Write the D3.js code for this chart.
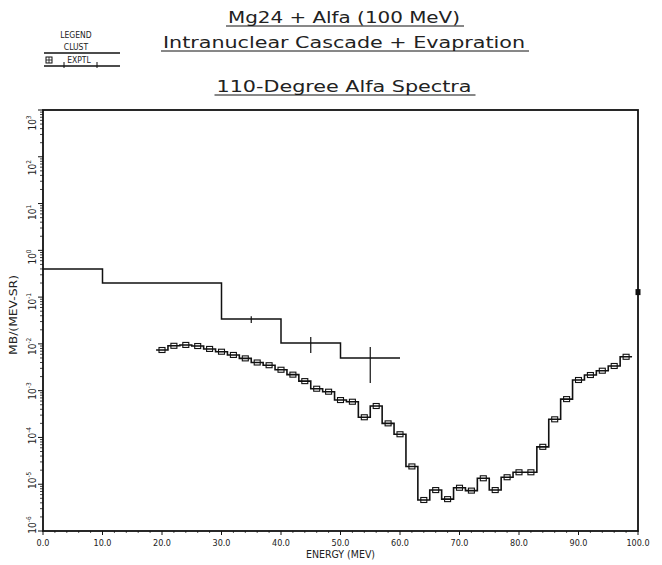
<!DOCTYPE html>
<html>
<head>
<meta charset="utf-8">
<script src="https://cdn.jsdelivr.net/npm/d3@7"></script>
<style>
  body { margin: 0; background: #fff; }
  text { font-family: "DejaVu Sans Condensed", "DejaVu Sans", sans-serif; fill: #222; }
</style>
</head>
<body>
<div id="chart"></div>
<script>
var svgWidth = 662;
var svgHeight = 565;

var margin = { top: 110, right: 24, bottom: 34, left: 43 };
var width = svgWidth - margin.left - margin.right;
var height = svgHeight - margin.top - margin.bottom;

// Cascade calculation (coarse bins, MeV edges) and its statistical errors
var clustEdges = [0, 10, 30, 40, 50, 60];
var clustValues = [0.40, 0.20, 0.034, 0.0105, 0.005];
var clustErrEnergy = [35, 45, 55];
var clustErrLow = [0.028, 0.0064, 0.00146];
var clustErrHigh = [0.039, 0.014, 0.0086];

// Experimental spectrum, 2 MeV bins (bin centres)
var exptEnergy = [20, 22, 24, 26, 28, 30, 32, 34, 36, 38, 40, 42, 44, 46, 48, 50, 52, 54, 56, 58,
                  60, 62, 64, 66, 68, 70, 72, 74, 76, 78, 80, 82, 84, 86, 88, 90, 92, 94, 96, 98];
var exptValues = [0.0074, 0.0091, 0.0095, 0.0090, 0.0078, 0.0068, 0.0058, 0.0049, 0.0040, 0.0035,
                  0.0028, 0.0022, 0.0016, 0.0011, 0.00095, 0.00063, 0.00058, 0.00027, 0.00047, 0.00020,
                  0.000117, 2.4e-5, 4.6e-6, 7.5e-6, 4.8e-6, 8.4e-6, 7.3e-6, 1.34e-5, 7.5e-6, 1.41e-5,
                  1.8e-5, 1.8e-5, 6.3e-5, 2.44e-4, 6.6e-4, 1.69e-3, 2.16e-3, 2.67e-3, 3.37e-3, 5.3e-3];

// lone point drawn on the right frame
var edgePoint = [100, 0.128];

var xTicks = [0, 10, 20, 30, 40, 50, 60, 70, 80, 90, 100];
var yExponents = [-6, -5, -4, -3, -2, -1, 0, 1, 2, 3];

var svg = d3.select("#chart")
  .append("svg")
  .attr("width", svgWidth)
  .attr("height", svgHeight);

var x = d3.scaleLinear().domain([0, 100]).range([margin.left, margin.left + width]);
var y = d3.scaleLog().domain([1e-6, 1e3]).range([margin.top + height, margin.top]);
// the plotter prints the decade labels a little off the tick
var yLabel = d3.scaleLog().domain([1e-6, 1e3]).range([525, 123]);

var ink = "#111";

// Titles, underlined
var titles = [
  { t: "Mg24 + Alfa (100 MeV)", y: 23, w: 232 },
  { t: "Intranuclear Cascade + Evapration", y: 48, w: 362 },
  { t: "110-Degree Alfa Spectra", y: 92, w: 255 }
];
titles.forEach(function(d) {
  svg.append("text")
    .attr("x", 344 - d.w / 2)
    .attr("y", d.y)
    .attr("textLength", d.w)
    .attr("lengthAdjust", "spacingAndGlyphs")
    .attr("font-size", 16)
    .attr("font-weight", 300)
    .text(d.t);
  svg.append("line")
    .attr("x1", 344 - d.w / 2 - 2).attr("x2", 344 + d.w / 2 + 4)
    .attr("y1", d.y + 3).attr("y2", d.y + 3)
    .attr("stroke", ink).attr("stroke-width", 1);
});

// Legend
var legend = svg.append("g");
legend.append("text").attr("x", 76).attr("y", 38).attr("text-anchor", "middle")
  .attr("font-size", 8.5).text("LEGEND");
legend.append("text").attr("x", 76).attr("y", 50).attr("text-anchor", "middle")
  .attr("font-size", 8.5).text("CLUST");
legend.append("line").attr("x1", 44).attr("x2", 120).attr("y1", 53).attr("y2", 53)
  .attr("stroke", ink).attr("stroke-width", 1.3);
legend.append("text").attr("x", 79).attr("y", 63).attr("text-anchor", "middle")
  .attr("font-size", 8.5).text("EXPTL");
legend.append("line").attr("x1", 44).attr("x2", 120).attr("y1", 66).attr("y2", 66)
  .attr("stroke", ink).attr("stroke-width", 1.3);
legend.append("rect").attr("x", 46).attr("y", 57).attr("width", 6).attr("height", 6)
  .attr("fill", "none").attr("stroke", ink).attr("stroke-width", 1);
legend.append("path").attr("d", "M49,57V63M46,60H52").attr("stroke", ink).attr("stroke-width", 0.8);
legend.append("path").attr("d", "M64,62V68M97,62V68")
  .attr("stroke", ink).attr("stroke-width", 1);

// Frame
svg.append("rect")
  .attr("x", margin.left).attr("y", margin.top)
  .attr("width", width).attr("height", height)
  .attr("fill", "none").attr("stroke", ink).attr("stroke-width", 1.8);

// Y ticks (log, outward)
var axisY = svg.append("g");
yExponents.forEach(function(e, i) {
  var v = Math.pow(10, e);
  axisY.append("line")
    .attr("x1", margin.left - 5).attr("x2", margin.left)
    .attr("y1", y(v)).attr("y2", y(v))
    .attr("stroke", ink).attr("stroke-width", 1);
  if (i < yExponents.length - 1) {
    for (var m = 2; m < 10; m++) {
      axisY.append("line")
        .attr("x1", margin.left - 3).attr("x2", margin.left)
        .attr("y1", y(m * v)).attr("y2", y(m * v))
        .attr("stroke", ink).attr("stroke-width", 0.8);
    }
  }
  var ly = yLabel(v);
  var lbl = axisY.append("text")
    .attr("transform", "translate(36," + ly + ") rotate(-90)")
    .attr("text-anchor", "middle")
    .attr("font-size", 10);
  lbl.append("tspan").text("10");
  lbl.append("tspan").attr("dy", -5).attr("font-size", 6.5).text(e);
});

svg.append("text")
  .attr("transform", "translate(17,315) rotate(-90)")
  .attr("text-anchor", "middle")
  .attr("font-size", 10)
  .attr("textLength", 80)
  .attr("lengthAdjust", "spacingAndGlyphs")
  .text("MB/(MEV-SR)");

// X ticks
var axisX = svg.append("g");
d3.range(0, 101, 2).forEach(function(e) {
  var major = e % 10 === 0;
  axisX.append("line")
    .attr("x1", x(e)).attr("x2", x(e))
    .attr("y1", margin.top + height).attr("y2", margin.top + height + (major ? 4 : 2))
    .attr("stroke", ink).attr("stroke-width", major ? 1 : 0.7);
});
xTicks.forEach(function(e) {
  axisX.append("text")
    .attr("x", x(e)).attr("y", 546)
    .attr("text-anchor", "middle")
    .attr("font-size", 9)
    .text(e.toFixed(1));
});
svg.append("text")
  .attr("x", x(50)).attr("y", 558)
  .attr("text-anchor", "middle")
  .attr("font-size", 10.5)
  .text("ENERGY (MEV)");

var line = d3.line().x(d => x(d[0])).y(d => y(d[1]));

// CLUST histogram
var clustPts = [];
clustValues.forEach(function(v, i) {
  clustPts.push([clustEdges[i], v]);
  clustPts.push([clustEdges[i + 1], v]);
});
svg.append("path")
  .attr("d", line(clustPts))
  .attr("fill", "none").attr("stroke", ink).attr("stroke-width", 1.5);

clustErrEnergy.forEach(function(e, i) {
  svg.append("line")
    .attr("x1", x(e)).attr("x2", x(e))
    .attr("y1", y(clustErrLow[i])).attr("y2", y(clustErrHigh[i]))
    .attr("stroke", ink).attr("stroke-width", 1.2);
});

// EXPTL histogram with square markers
var exptPts = [];
exptValues.forEach(function(v, i) {
  exptPts.push([exptEnergy[i] - 1, v]);
  exptPts.push([exptEnergy[i] + 1, v]);
});
svg.append("path")
  .attr("d", line(exptPts))
  .attr("fill", "none").attr("stroke", ink).attr("stroke-width", 1.6);

svg.selectAll(".expt")
  .data(exptValues)
  .enter()
  .append("rect")
  .attr("class", "expt")
  .attr("x", (d, i) => x(exptEnergy[i]) - 3)
  .attr("y", d => y(d) - 2.5)
  .attr("width", 6).attr("height", 5)
  .attr("fill", "none").attr("stroke", ink).attr("stroke-width", 1.1);

svg.append("rect")
  .attr("x", x(edgePoint[0]) - 2.5).attr("y", y(edgePoint[1]) - 3)
  .attr("width", 5).attr("height", 6)
  .attr("fill", ink);
</script>
</body>
</html>
